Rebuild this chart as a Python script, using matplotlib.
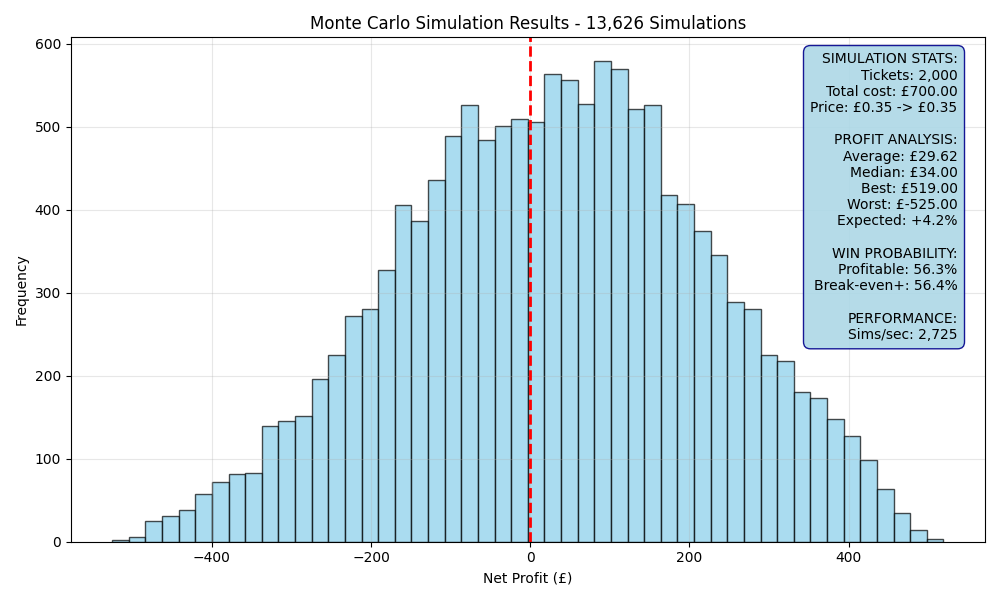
import matplotlib
matplotlib.use("Agg")
import matplotlib.pyplot as plt
import numpy as np

peor = -525.0
mejor = 519.0
n_bins = 50
frecuencias = [
    2, 6, 25, 31, 38, 58, 72, 82, 83, 139,
    145, 151, 196, 225, 272, 280, 328, 406, 386, 436,
    489, 526, 484, 501, 510, 506, 564, 557, 527, 579,
    570, 521, 526, 418, 407, 374, 345, 289, 280, 225,
    218, 181, 173, 148, 128, 98, 64, 35, 14, 3,
]

n_sims = 13626
texto_stats = (
    "SIMULATION STATS:\n"
    "Tickets: 2,000\n"
    "Total cost: £700.00\n"
    "Price: £0.35 -> £0.35\n"
    "\n"
    "PROFIT ANALYSIS:\n"
    "Average: £29.62\n"
    "Median: £34.00\n"
    "Best: £519.00\n"
    "Worst: £-525.00\n"
    "Expected: +4.2%\n"
    "\n"
    "WIN PROBABILITY:\n"
    "Profitable: 56.3%\n"
    "Break-even+: 56.4%\n"
    "\n"
    "PERFORMANCE:\n"
    "Sims/sec: 2,725"
)

bordes = np.linspace(peor, mejor, n_bins + 1)
ancho = bordes[1] - bordes[0]

fig, ax = plt.subplots(figsize=(10, 6))

ax.bar(bordes[:-1], frecuencias, width=ancho, align="edge",
       color="skyblue", alpha=0.7, edgecolor="black", linewidth=1)

# Linea de punto de equilibrio
ax.axvline(0, color="red", linestyle="--", linewidth=2)

ax.set_title(f"Monte Carlo Simulation Results - {n_sims:,} Simulations", fontsize=12)
ax.set_xlabel("Net Profit (£)")
ax.set_ylabel("Frequency")
ax.grid(True, alpha=0.3)

ax.text(0.97, 0.97, texto_stats, transform=ax.transAxes, fontsize=10,
        va="top", ha="right", multialignment="right",
        bbox=dict(boxstyle="round,pad=0.5", facecolor="lightblue", alpha=0.9, edgecolor="darkblue"))

fig.tight_layout()
fig.savefig("out.png", dpi=100)
plt.close(fig)
